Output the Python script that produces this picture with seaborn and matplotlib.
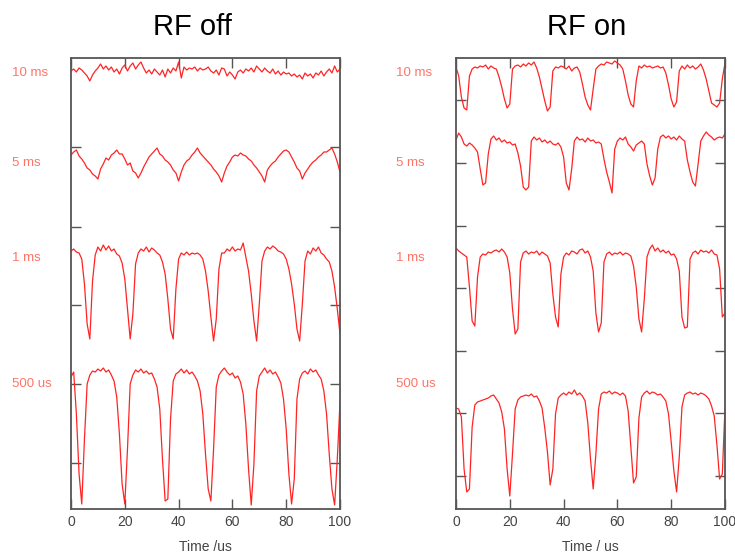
import numpy as np
import pandas as pd
import matplotlib
matplotlib.use("Agg")
import matplotlib.pyplot as plt
import seaborn as sns

sns.set_style("white")
plt.rcParams["font.family"] = ["Liberation Sans", "DejaVu Sans"]

# time axis, 1 us sampling
time_us = np.arange(0, 101)

trace_names = ["10 ms", "5 ms", "1 ms", "500 us"]

# signal (a.u., stacked traces)
off_10ms = [438, 440, 437, 441, 439, 436, 433, 428, 434, 438,
            441, 445, 440, 443, 439, 442, 437, 440, 435, 441,
            444, 438, 443, 446, 440, 444, 447, 441, 436, 439,
            435, 440, 437, 434, 439, 432, 440, 436, 441, 438,
            447, 431, 442, 439, 441, 440, 442, 438, 441, 439,
            440, 442, 438, 436, 439, 434, 441, 440, 433, 437,
            434, 430, 437, 439, 436, 440, 438, 441, 437, 443,
            440, 437, 441, 438, 436, 440, 435, 438, 434, 437,
            435, 436, 433, 435, 432, 434, 430, 436, 433, 435,
            431, 436, 434, 438, 433, 437, 440, 436, 443, 437,
            440]
off_5ms = [354, 357, 359, 353, 350, 346, 341, 339, 335, 333,
           330, 340, 345, 351, 349, 354, 356, 359, 355, 355,
           350, 344, 346, 338, 336, 331, 336, 342, 347, 352,
           355, 358, 361, 355, 353, 349, 347, 344, 339, 336,
           328, 337, 344, 348, 350, 354, 357, 361, 356, 353,
           350, 347, 344, 340, 337, 333, 327, 336, 343, 347,
           352, 354, 353, 356, 354, 353, 350, 348, 344, 341,
           337, 333, 327, 339, 343, 346, 348, 352, 355, 358,
           359, 357, 352, 347, 341, 338, 330, 336, 340, 344,
           347, 349, 352, 354, 357, 357, 359, 361, 355, 347,
           337]
off_1ms = [258, 260, 257, 256, 250, 225, 185, 170, 228, 254,
           262, 258, 264, 259, 263, 258, 260, 255, 253, 246,
           230, 200, 170, 195, 245, 256, 260, 258, 262, 257,
           261, 259, 256, 254, 247, 235, 210, 180, 170, 220,
           250, 256, 254, 257, 254, 256, 255, 256, 254, 250,
           238, 218, 192, 168, 190, 240, 256, 256, 260, 258,
           262, 258, 260, 259, 266, 252, 238, 215, 188, 168,
           205, 248, 258, 262, 260, 263, 261, 258, 257, 255,
           250, 240, 225, 205, 180, 168, 205, 248, 258, 255,
           261, 258, 262, 256, 254, 250, 247, 238, 222, 200,
           175]
off_500us = [132, 137, 95, 35, 5, 70, 125, 134, 138, 137,
             140, 138, 141, 137, 139, 134, 128, 112, 75, 25,
             5, 60, 125, 134, 139, 137, 140, 136, 138, 135,
             136, 130, 122, 100, 50, 8, 10, 90, 128, 135,
             137, 140, 136, 139, 135, 137, 133, 128, 118, 95,
             55, 20, 8, 60, 122, 134, 138, 141, 137, 134,
             136, 131, 133, 127, 115, 85, 40, 4, 45, 118,
             133, 137, 141, 136, 139, 135, 137, 132, 126, 110,
             80, 35, 5, 30, 110, 130, 136, 138, 135, 140,
             137, 139, 134, 130, 118, 95, 55, 20, 4, 50,
             107]

on_10ms = [442, 433, 412, 401, 399, 433, 440, 442, 441, 443,
           442, 444, 440, 443, 441, 440, 432, 422, 410, 401,
           405, 440, 443, 444, 442, 445, 443, 446, 444, 447,
           441, 432, 420, 408, 398, 402, 438, 442, 441, 443,
           442, 440, 443, 438, 441, 442, 437, 425, 412, 404,
           399, 420, 440, 443, 445, 444, 447, 446, 445, 448,
           446, 444, 440, 428, 414, 405, 402, 428, 443, 441,
           444, 442, 443, 441, 442, 443, 441, 442, 436, 424,
           410, 402, 407, 438, 443, 440, 444, 441, 443, 440,
           442, 445, 439, 430, 418, 406, 404, 402, 406, 430,
           446]
on_5ms = [369, 376, 372, 365, 363, 366, 364, 361, 357, 340,
          324, 326, 355, 370, 373, 369, 371, 367, 369, 366,
          367, 364, 365, 356, 343, 322, 319, 322, 368, 372,
          369, 371, 367, 369, 366, 368, 365, 364, 366, 362,
          352, 326, 319, 340, 368, 372, 369, 370, 367, 371,
          368, 369, 366, 367, 365, 350, 337, 327, 316, 360,
          368, 371, 369, 372, 365, 362, 358, 364, 366, 368,
          365, 345, 333, 324, 331, 360, 372, 374, 371, 373,
          370, 372, 369, 373, 370, 368, 349, 337, 327, 323,
          345, 368, 373, 377, 374, 372, 369, 371, 372, 371,
          375]
on_1ms = [261, 258, 256, 254, 252, 222, 188, 183, 232, 252,
          255, 254, 257, 256, 258, 259, 257, 260, 257, 252,
          236, 200, 175, 180, 247, 256, 258, 255, 257, 256,
          258, 254, 257, 255, 253, 246, 215, 192, 182, 235,
          252, 256, 254, 258, 257, 255, 259, 260, 256, 258,
          252, 238, 196, 177, 186, 247, 255, 257, 254, 256,
          255, 257, 254, 256, 255, 253, 243, 222, 190, 177,
          210, 252, 260, 264, 258, 261, 257, 259, 256, 258,
          254, 255, 250, 238, 192, 181, 182, 250, 256, 258,
          255, 259, 257, 258, 256, 259, 255, 254, 240, 192,
          196]
on_500us = [101, 100, 92, 40, 17, 20, 82, 104, 107, 108,
            109, 110, 111, 113, 114, 110, 106, 97, 80, 40,
            13, 55, 100, 109, 112, 113, 114, 113, 115, 112,
            113, 108, 101, 81, 57, 24, 40, 95, 111, 114,
            116, 114, 117, 115, 119, 114, 116, 113, 108, 86,
            50, 20, 55, 100, 115, 117, 116, 118, 115, 117,
            116, 114, 116, 113, 98, 62, 26, 32, 91, 112,
            116, 118, 115, 117, 116, 114, 115, 112, 108, 95,
            67, 38, 17, 52, 102, 114, 116, 117, 115, 116,
            114, 116, 115, 113, 110, 103, 93, 64, 30, 35,
            101]

off_ticks = [46, 125, 204, 282, 362]
on_ticks = [33, 96, 158, 221, 283, 346, 409]


def long_frame(series):
    frames = []
    for name, vals in zip(trace_names, series):
        frames.append(pd.DataFrame({"time": time_us, "signal": vals, "trace": name}))
    return pd.concat(frames, ignore_index=True)


df_off = long_frame([off_10ms, off_5ms, off_1ms, off_500us])
df_on = long_frame([on_10ms, on_5ms, on_1ms, on_500us])

W, H = 735, 553
fig = plt.figure(figsize=(W / 100, H / 100), dpi=100)
ax_off = fig.add_axes([71 / W, 1 - 509 / H, 269 / W, 451 / H])
ax_on = fig.add_axes([456 / W, 1 - 509 / H, 269 / W, 451 / H])

red = "#ff2424"
frame_col = "#555555"

panels = [
    (ax_off, df_off, off_ticks, "RF off", "Time /us", 192),
    (ax_on, df_on, on_ticks, "RF on", "Time / us", 587),
]
for ax, df, yt, title, xlab, title_x in panels:
    sns.lineplot(data=df, x="time", y="signal", hue="trace", palette=[red] * 4,
                 estimator=None, legend=False, linewidth=0.9, ax=ax)
    ax.set_xlim(0, 100)
    ax.set_ylim(0, 451)
    ax.set_xticks([0, 20, 40, 60, 80, 100])
    ax.set_yticks(yt)
    ax.tick_params(axis="both", direction="in", length=7, width=1, color=frame_col,
                   top=True, right=True, left=True, bottom=True,
                   labelleft=False, labelsize=10, labelcolor="#444444", pad=4)
    for sp in ax.spines.values():
        sp.set_color(frame_col)
        sp.set_linewidth(1.3)
    ax.set_ylabel("")
    ax.set_xlabel(xlab, fontsize=10, color="#444444", labelpad=8)
    fig.text(title_x / W, 1 - 27 / H, title, fontsize=21, color="black",
             ha="center", va="center")

# trace labels beside each panel
label_rows = [73, 163, 258, 384]
for left_px in [12, 396]:
    for name, row in zip(trace_names, label_rows):
        fig.text(left_px / W, 1 - row / H, name, fontsize=9.5, color="#ff7468",
                 ha="left", va="center")

fig.savefig("out.png", dpi=100)
